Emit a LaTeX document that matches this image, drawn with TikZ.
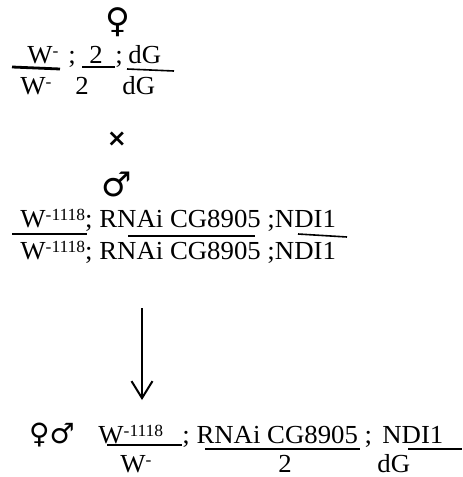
\documentclass[tikz,border=0pt]{standalone}
\usepackage{fontspec}
\setmainfont{Liberation Serif}[FakeStretch=1.03]
\newfontfamily\symfont{DejaVu Sans}
\usetikzlibrary{arrows.meta}

\newcommand{\allele}[1]{\raisebox{3.4pt}{\fontsize{8.5}{9}\selectfont #1}}

\begin{document}
\begin{tikzpicture}[
    x=0.5pt,y=-0.5pt,
    gene/.style={anchor=base west,inner sep=0pt,font=\fontsize{13}{15}\selectfont},
    sexsign/.style={inner sep=0pt,font=\symfont\fontsize{17}{17}\selectfont},
    bar/.style={line width=0.8pt},
    heavybar/.style={line width=1.4pt}
]
    \useasboundingbox (0,0) rectangle (462,477);

    % female parent
    \node[sexsign] (female) at (118,22) {♀};
    \node[gene] (mum-w-num) at (27,63) {W\allele{-}};
    \node[gene] (mum-sep1) at (68,63) {;};
    \node[gene] (mum-2-num) at (89,63) {2};
    \node[gene] (mum-sep2) at (115,63) {;};
    \node[gene] (mum-dg-num) at (128,63) {dG};
    \foreach \name/\x/\txt in {w/20/W\allele{-},2/75/2,dg/122/dG}
        \node[gene] (mum-\name-den) at (\x,94) {\txt};
    \draw[heavybar] (12,67) -- (60,69);
    \draw[bar] (82,67) -- (115,67);
    \draw[bar] (127,69) -- (174,71);

    \node[inner sep=0pt,font=\symfont\bfseries\fontsize{12}{12}\selectfont]
        (cross) at (117,139) {×};

    % male parent
    \node[sexsign] (male) at (117,184) {♂};
    \node[gene] (dad-num) at (20,227) {W\allele{-1118}; RNAi CG8905 ;NDI1};
    \node[gene] (dad-den) at (20,259) {W\allele{-1118}; RNAi CG8905 ;NDI1};
    \draw[heavybar] (12,234) -- (87,234);
    \draw[bar] (128,236) -- (255,236);
    \draw[bar] (298,234) -- (347,237);

    \coordinate (arrow-start) at (142,308);
    \coordinate (arrow-end) at (142,400);
    \draw[line width=1pt,-{Straight Barb[length=8.5pt,width=10.5pt]}]
        (arrow-start) -- (arrow-end);

    % offspring
    \node[sexsign,font=\symfont\fontsize{14}{14}\selectfont] (both) at (52,435) {♀♂};
    \node[gene] (kid-w-num) at (98,443) {W\allele{-1118}};
    \node[gene] (kid-rnai-num) at (182,443) {; RNAi CG8905 ;};
    \node[gene] (kid-ndi-num) at (382,443) {NDI1};
    \foreach \name/\x/\txt in {w/120/W\allele{-},2/278/2,dg/377/dG}
        \node[gene] (kid-\name-den) at (\x,472) {\txt};
    \draw[heavybar] (107,445) -- (182,445);
    \draw[bar] (205,449) -- (360,449);
    \draw[bar] (408,449) -- (462,449);
\end{tikzpicture}
\end{document}
